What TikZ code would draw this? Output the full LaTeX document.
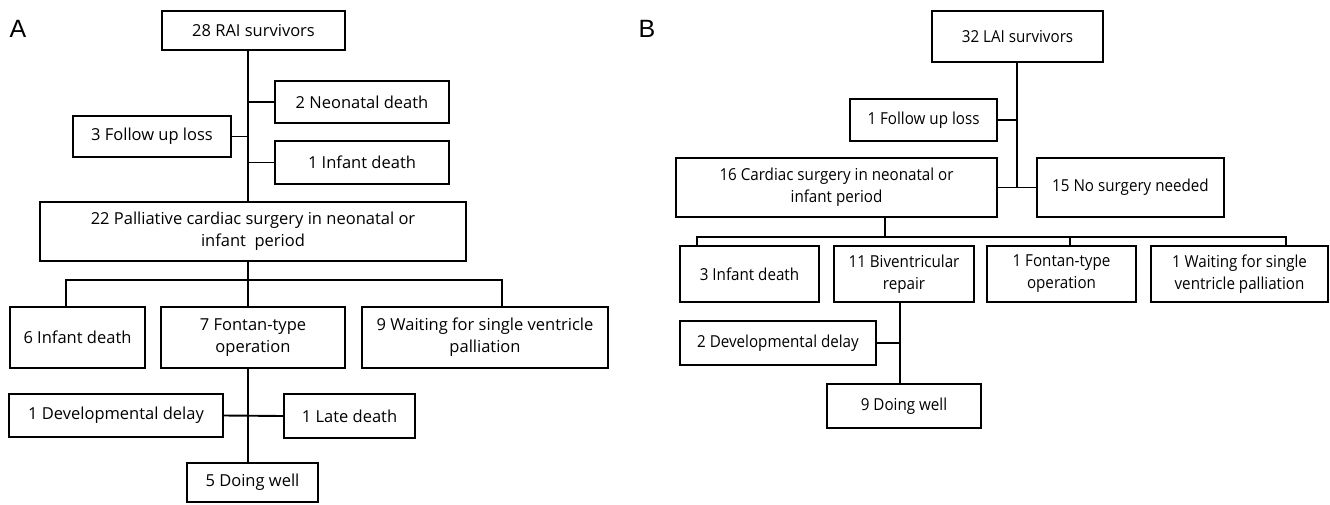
\documentclass[tikz,border=0pt]{standalone}
\usepackage{fontspec}
\setmainfont{Open Sans}
\newfontfamily\bfont[FakeStretch=0.92]{Open Sans}
\newfontfamily\lblfont{Liberation Sans}
\newcommand\bx[6]{%
  \pgfmathsetmacro\bxw{#4-#2}\pgfmathsetmacro\bxh{#5-#3}%
  \node[box, minimum width=\bxw pt, minimum height=\bxh pt] (#1) at ({(#2+#4)/2},{(#3+#5)/2}) {#6};}
\begin{document}
\begin{tikzpicture}[x=1pt,y=-1pt,
  basebox/.style={draw=black, line width=1.9pt, inner sep=0pt, align=center},
  box/.style={basebox, font=\fontsize{16.5}{22}\selectfont},
  link/.style={draw=black, line width=1.9pt},
  panel/.style={font=\lblfont\fontsize{25}{28}\selectfont, inner sep=0pt}]
\useasboundingbox (0,0) rectangle (1330,504);
% ---------- Panel A ----------
\node[panel] (labA) at (18,29) {A};
\bx{rai}{162}{11}{345}{50}{28 RAI survivors}
\bx{neo}{275}{81}{449}{123}{2 Neonatal death}
\bx{fuA}{73}{116}{231}{157}{3 Follow up loss}
\bx{infA}{275}{141}{449}{184}{1 Infant death}
\bx{pal}{40}{202}{466}{261}{22 Palliative cardiac surgery in neonatal or\\infant\ \ period}
\bx{inf6}{10}{307}{145}{368}{6 Infant\ death}
\bx{fon7}{161}{307}{345}{368}{7 Fontan-type\\operation}
\bx{wt9}{362}{307}{608}{368}{9 Waiting for single ventricle\\palliation}
\bx{devA}{9}{394}{223}{437}{1 Developmental delay}
\bx{late}{284}{394}{415}{438}{1 Late death}
\bx{wellA}{187}{463}{318}{502}{5 Doing well}
\coordinate (tA) at (248,0);
\coordinate (dA1) at (66,280);
\coordinate (dA3) at (502,280);
\draw[link] (tA |- rai.south) -- (tA |- pal.north);
\draw[link] (neo.west) -- (tA |- neo.west);
\draw[link] (fuA.east) -- (tA |- fuA.east);
\draw[link] (infA.west) -- (tA |- infA.west);
\draw[link] (tA |- pal.south) -- (tA |- fon7.north);
\draw[link] (dA1 |- inf6.north) -- (dA1) -- (dA3) -- (dA3 |- wt9.north);
\draw[link] (tA |- fon7.south) -- (tA |- wellA.north);
\draw[link] (devA.east) -- (late.west);
% ---------- Panel B ----------
\node[panel] (labB) at (647,29) {B};
\begin{scope}[box/.style={basebox, font=\fontsize{16.5}{22}\selectfont\bfont}]
\bx{lai}{932}{11}{1103}{62}{32 LAI survivors}
\bx{fuB}{850}{99}{997}{141}{1 Follow up loss}
\bx{car}{676}{158}{997}{217}{16 Cardiac surgery in neonatal or\\infant period}
\bx{nos}{1037}{158}{1224}{217}{15 No surgery needed}
\bx{infB}{680}{246}{819}{302}{3 Infant death}
\bx{biv}{834}{246}{974}{302}{11 Biventricular\\repair}
\bx{fonB}{987}{246}{1136}{302}{1 Fontan-type\\operation}
\bx{wtB}{1151}{246}{1328}{302}{1 Waiting for single\\ventricle palliation}
\bx{devB}{680}{321}{876}{365}{2 Developmental delay}
\bx{wellB}{827}{384}{981}{428}{9 Doing well}
\end{scope}
\coordinate (tB) at (1017,0);
\coordinate (sB) at (885,237);
\coordinate (dB1) at (697,237);
\coordinate (dB3) at (1070,237);
\coordinate (dB4) at (1286,237);
\coordinate (vB) at (900,0);
\draw[link] (tB |- lai.south) -- (tB |- nos.west);
\draw[link] (fuB.east) -- (tB |- fuB.east);
\draw[link] (car.east) -- (nos.west);
\draw[link] (sB |- car.south) -- (sB);
\draw[link] (dB1 |- infB.north) -- (dB1) -- (dB4) -- (dB4 |- wtB.north);
\draw[link] (dB3) -- (dB3 |- fonB.north);
\draw[link] (vB |- biv.south) -- (vB |- wellB.north);
\draw[link] (devB.east) -- (vB |- devB.east);
\end{tikzpicture}
\end{document}
